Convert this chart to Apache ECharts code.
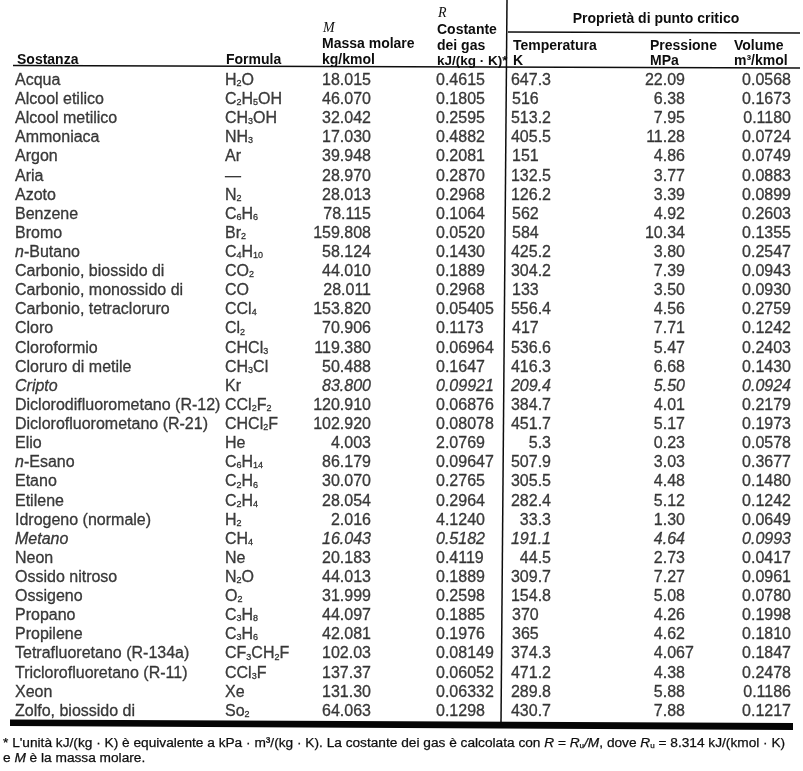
<!DOCTYPE html>
<html>
<head>
<meta charset="utf-8">
<script src="https://cdn.jsdelivr.net/npm/echarts@6/dist/echarts.min.js"></script>
<style>
html, body { margin: 0; padding: 0; background: #fff; }
#chart { width: 803px; height: 771px; }
</style>
</head>
<body>
<div id="chart"></div>
<script>
// dati della tabella
const sostanze = ['Acqua', 'Alcool etilico', 'Alcool metilico', 'Ammoniaca', 'Argon', 'Aria', 'Azoto', 'Benzene',
  'Bromo', 'n-Butano', 'Carbonio, biossido di', 'Carbonio, monossido di', 'Carbonio, tetracloruro', 'Cloro',
  'Cloroformio', 'Cloruro di metile', 'Cripto', 'Diclorodifluorometano (R-12)', 'Diclorofluorometano (R-21)',
  'Elio', 'n-Esano', 'Etano', 'Etilene', 'Idrogeno (normale)', 'Metano', 'Neon', 'Ossido nitroso', 'Ossigeno',
  'Propano', 'Propilene', 'Tetrafluoretano (R-134a)', 'Triclorofluoretano (R-11)', 'Xeon', 'Zolfo, biossido di'];
const formule = ['H_2O', 'C_2H_5OH', 'CH_3OH', 'NH_3', 'Ar', '—', 'N_2', 'C_6H_6', 'Br_2', 'C_4H_10', 'CO_2', 'CO',
  'CCl_4', 'Cl_2', 'CHCl_3', 'CH_3Cl', 'Kr', 'CCl_2F_2', 'CHCl_2F', 'He', 'C_6H_14', 'C_2H_6', 'C_2H_4', 'H_2',
  'CH_4', 'Ne', 'N_2O', 'O_2', 'C_3H_8', 'C_3H_6', 'CF_3CH_2F', 'CCl_3F', 'Xe', 'So_2'];
const massaMolare = ['18.015', '46.070', '32.042', '17.030', '39.948', '28.970', '28.013', '78.115', '159.808',
  '58.124', '44.010', '28.011', '153.820', '70.906', '119.380', '50.488', '83.800', '120.910', '102.920', '4.003',
  '86.179', '30.070', '28.054', '2.016', '16.043', '20.183', '44.013', '31.999', '44.097', '42.081', '102.03',
  '137.37', '131.30', '64.063'];
const costanteR = ['0.4615', '0.1805', '0.2595', '0.4882', '0.2081', '0.2870', '0.2968', '0.1064', '0.0520',
  '0.1430', '0.1889', '0.2968', '0.05405', '0.1173', '0.06964', '0.1647', '0.09921', '0.06876', '0.08078',
  '2.0769', '0.09647', '0.2765', '0.2964', '4.1240', '0.5182', '0.4119', '0.1889', '0.2598', '0.1885', '0.1976',
  '0.08149', '0.06052', '0.06332', '0.1298'];
const temperaturaK = ['647.3', '516', '513.2', '405.5', '151', '132.5', '126.2', '562', '584', '425.2', '304.2',
  '133', '556.4', '417', '536.6', '416.3', '209.4', '384.7', '451.7', '5.3', '507.9', '305.5', '282.4', '33.3',
  '191.1', '44.5', '309.7', '154.8', '370', '365', '374.3', '471.2', '289.8', '430.7'];
const pressioneMPa = ['22.09', '6.38', '7.95', '11.28', '4.86', '3.77', '3.39', '4.92', '10.34', '3.80', '7.39',
  '3.50', '4.56', '7.71', '5.47', '6.68', '5.50', '4.01', '5.17', '0.23', '3.03', '4.48', '5.12', '1.30', '4.64',
  '2.73', '7.27', '5.08', '4.26', '4.62', '4.067', '4.38', '5.88', '7.88'];
const volumeCritico = ['0.0568', '0.1673', '0.1180', '0.0724', '0.0749', '0.0883', '0.0899', '0.2603', '0.1355',
  '0.2547', '0.0943', '0.0930', '0.2759', '0.1242', '0.2403', '0.1430', '0.0924', '0.2179', '0.1973', '0.0578',
  '0.3677', '0.1480', '0.1242', '0.0649', '0.0993', '0.0417', '0.0961', '0.0780', '0.1998', '0.1810', '0.1847',
  '0.2478', '0.1186', '0.1217'];
const righeCorsivo = ['Cripto', 'Metano'];

const FONT = "'Liberation Sans', Arial, Helvetica, sans-serif";
const SERIF = "'Liberation Serif', 'Times New Roman', serif";
const INK = '#0d0d0d';

const RICH = {
  n: { fontSize: 16, fontFamily: FONT, color: INK, lineHeight: 20, fontStyle: 'normal',
       textBorderColor: INK, textBorderWidth: 0.3 },
  i: { fontSize: 16, fontFamily: FONT, color: INK, lineHeight: 20, fontStyle: 'italic',
       textBorderColor: INK, textBorderWidth: 0.3 },
  s: { fontSize: 9, fontFamily: FONT, color: INK, lineHeight: 9, padding: [6, 0, 0, 0], verticalAlign: 'middle',
       fontStyle: 'normal', textBorderColor: INK, textBorderWidth: 0.3 }
};

function corsivo(i) { return righeCorsivo.indexOf(sostanze[i]) >= 0; }

function formulaRich(f) {
  return f.split(/_(\d+)/).map((p, k) => p === '' ? '' : (k % 2 ? '{s|' + p + '}' : '{n|' + p + '}')).join('');
}
function nomeRich(n, i) {
  if (n.startsWith('n-')) return '{i|n}{n|' + n.slice(1) + '}';
  return corsivo(i) ? '{i|' + n + '}' : '{n|' + n + '}';
}

function serieColonna(valori, posizione, formatta) {
  return {
    type: 'scatter',
    symbolSize: 0,
    silent: true,
    data: valori.map((v, i) => {
      const p = posizione(v);
      return { value: [p.x, i], label: { align: p.align, fontStyle: corsivo(i) ? 'italic' : 'normal' } };
    }),
    label: {
      show: true, position: 'inside', verticalAlign: 'middle',
      fontSize: 16, fontFamily: FONT, color: INK, lineHeight: 20, rich: RICH,
      textBorderColor: INK, textBorderWidth: 0.3,
      formatter: p => formatta ? formatta(valori[p.dataIndex], p.dataIndex) : valori[p.dataIndex]
    }
  };
}

const chart = echarts.init(document.getElementById('chart'));

function testo(t, x, y, opt) {
  return {
    type: 'text', x: x, y: y, silent: true,
    style: Object.assign({ text: t, fill: INK, fontFamily: FONT, fontSize: 14, fontWeight: 'bold',
      align: 'left', verticalAlign: 'middle' }, opt || {})
  };
}
function linea(x1, y1, x2, y2, w) {
  return { type: 'line', silent: true, shape: { x1, y1, x2, y2 }, style: { stroke: INK, lineWidth: w } };
}

const NOTA = { fontWeight: 'normal', fontSize: 13.7, stroke: INK, lineWidth: 0.25 };
const RICH_NOTA = {
  i: { fontStyle: 'italic', fontSize: 13.7, fontFamily: FONT, fill: INK },
  u: { fontSize: 8, fontFamily: FONT, fill: INK, lineHeight: 8, padding: [6, 0, 0, 0], verticalAlign: 'middle' }
};

const intestazioni = [
  testo('Sostanza', 17, 60), testo('Formula', 226, 60),
  testo('M', 323, 28, { fontFamily: SERIF, fontStyle: 'italic', fontWeight: 'normal', fontSize: 14 }),
  testo('Massa molare', 322, 44), testo('kg/kmol', 322, 60),
  testo('R', 438, 13, { fontFamily: SERIF, fontStyle: 'italic', fontWeight: 'normal', fontSize: 14 }),
  testo('Costante', 437, 30), testo('dei gas', 437, 46), testo('kJ/(kg · K)*', 437, 61, { fontSize: 13.5 }),
  testo('Proprietà di punto critico', 656, 19, { align: 'center' }),
  testo('Temperatura', 513, 46), testo('K', 513, 61),
  testo('Pressione', 650, 46), testo('MPa', 650, 61),
  testo('Volume', 734, 46), testo('m³/kmol', 734, 61),
  linea(13, 65.5, 800, 68, 1.5),
  linea(508, 32, 800, 33, 1.5),
  linea(507, 0, 501, 722, 1.5),
  { type: 'polygon', silent: true, shape: { points: [[10, 719.5], [793, 723], [793, 730], [10, 726]] },
    style: { fill: '#050505' } },
  testo("* L'unità kJ/(kg · K) è equivalente a kPa · m³/(kg · K). La costante dei gas è calcolata con " +
    '{i|R} = {i|R}{u|u}{i|/M}, dove {i|R}{u|u} = 8.314 kJ/(kmol · K)', 3, 743,
    Object.assign({ rich: RICH_NOTA }, NOTA)),
  testo('e {i|M} è la massa molare.', 3, 758, Object.assign({ rich: RICH_NOTA }, NOTA))
];

const option = {
  backgroundColor: '#fff',
  animation: false,
  grid: { left: 0, right: 0, top: 71, height: 650 },
  xAxis: { type: 'value', min: 0, max: 803, show: false },
  yAxis: { type: 'category', data: sostanze, inverse: true, show: false },
  graphic: intestazioni,
  series: [
    serieColonna(sostanze, () => ({ x: 15, align: 'left' }), nomeRich),
    serieColonna(formule, () => ({ x: 225, align: 'left' }), f => formulaRich(f)),
    serieColonna(massaMolare, () => ({ x: 371, align: 'right' })),
    serieColonna(costanteR, () => ({ x: 436, align: 'left' })),
    serieColonna(temperaturaK, v => v.indexOf('.') >= 0 ? { x: 551, align: 'right' } : { x: 512, align: 'left' }),
    serieColonna(pressioneMPa, v => ({ x: 685 + (v.split('.')[1].length - 2) * 8.9, align: 'right' })),
    serieColonna(volumeCritico, () => ({ x: 791, align: 'right' }))
  ]
};
chart.setOption(option);
</script>
</body>
</html>
